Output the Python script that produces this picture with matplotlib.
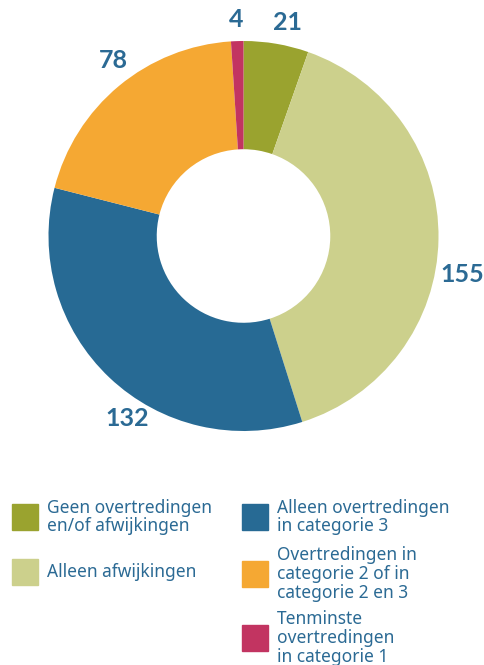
import numpy as np
import matplotlib.pyplot as plt
from matplotlib.patches import Rectangle

# Data
labels = ["Geen overtredingen\nen/of afwijkingen",
          "Alleen afwijkingen",
          "Alleen overtredingen\nin categorie 3",
          "Overtredingen in\ncategorie 2 of in\ncategorie 2 en 3",
          "Tenminste\novertredingen\nin categorie 1"]
values = [21, 155, 132, 78, 4]
colors = ["#9aa32f", "#ccd08c", "#276a94", "#f5a833", "#c23461"]

text_col = "#2b6a94"
W, H = 484, 665
fig = plt.figure(figsize=(W / 100, H / 100), dpi=100)

# donut axes (center ~ (243,236) px, radius ~195 px)
cx, cy, R = 243.5, 236, 195
ax = fig.add_axes([(cx - R) / W, (H - cy - R) / H, 2 * R / W, 2 * R / H])
wedges, _ = ax.pie(values, colors=colors, startangle=90, counterclock=False,
                   radius=1, wedgeprops=dict(width=0.555, edgecolor='none'))
ax.set_xlim(-1, 1)
ax.set_ylim(-1, 1)
ax.set_aspect('equal')
ax.axis('off')

# value labels, slightly nudged from the mid angle
nudge = [-2, -9, 11, -3, 0]
dist = [1.12, 1.14, 1.11, 1.12, 1.11]
for w, v, dn, d in zip(wedges, values, nudge, dist):
    a = np.deg2rad((w.theta1 + w.theta2) / 2 + dn)
    ax.text(d * np.cos(a), d * np.sin(a), str(v), ha='center', va='center',
            fontsize=18, fontweight='bold', family='Lato', color=text_col,
            clip_on=False)

# legend drawn by hand
sq = 26
pos = [(12, 517), (12, 572), (242, 517), (242, 574), (242, 638)]
for (x, y), lab, c in zip(pos, labels, colors):
    fig.patches.append(Rectangle((x / W, (H - y - sq / 2) / H), sq / W, sq / H,
                                 transform=fig.transFigure, color=c))
    fig.text((x + sq + 9) / W, (H - y) / H, lab, ha='left', va='center',
             fontsize=12.5, family='Noto Sans', color=text_col, linespacing=1.05)

fig.savefig("out.png", dpi=100)
